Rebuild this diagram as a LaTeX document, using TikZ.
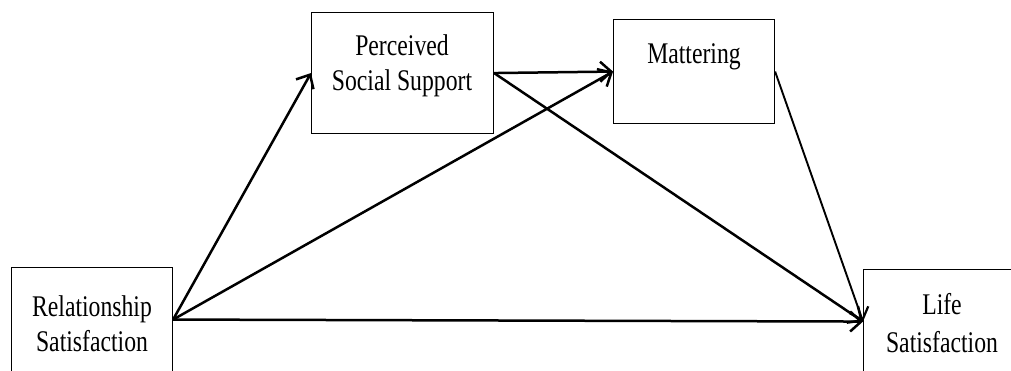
\documentclass[tikz,border=0pt]{standalone}
\usepackage{fontspec}
\setmainfont{Liberation Serif}[FakeStretch=0.79]
\usetikzlibrary{arrows.meta}
\begin{document}
\begin{tikzpicture}[x=1pt,y=-1pt,
  box/.style={draw, line width=1.1pt, inner sep=0pt, anchor=north west},
  txt/.style={anchor=base, inner sep=0pt, font=\fontsize{30}{36}\selectfont},
  conn/.style={line width=2.5pt, -{Straight Barb[length=11pt,width=20pt,line width=2.5pt]}},
  connthin/.style={line width=1.9pt, -{Straight Barb[length=11pt,width=20pt,line width=2.2pt]}}]
\useasboundingbox (0,0) rectangle (1011,370);
% boxes
\node[box, minimum width=161pt, minimum height=104pt] (rs) at (11,267) {};
\node[box, minimum width=182pt, minimum height=121pt] (pss) at (311,12) {};
\node[box, minimum width=161pt, minimum height=104pt] (mat) at (613,19) {};
\node[box, minimum width=160pt, minimum height=104pt] (ls) at (863,269) {};
% texts
\node[txt] (rs1) at (92,316) {Relationship};
\node[txt] (rs2) at (92,351) {Satisfaction};
\node[txt] (pss1) at (402,55) {Perceived};
\node[txt] (pss2) at (402,90) {Social Support};
\node[txt] (mat1) at (694,63) {Mattering};
\node[txt] (ls1) at (942,314) {Life};
\node[txt] (ls2) at (942,352) {Satisfaction};
% connectors
\draw[conn] (rs.east) -- (pss.west);
\draw[conn] (rs.east) -- (mat.west);
\draw[conn] (rs.east) -- (ls.west);
\draw[conn] (pss.east) -- (mat.west);
\draw[conn] (pss.east) -- (ls.west);
\draw[connthin] (mat.east) -- (ls.west);
\end{tikzpicture}
\end{document}
